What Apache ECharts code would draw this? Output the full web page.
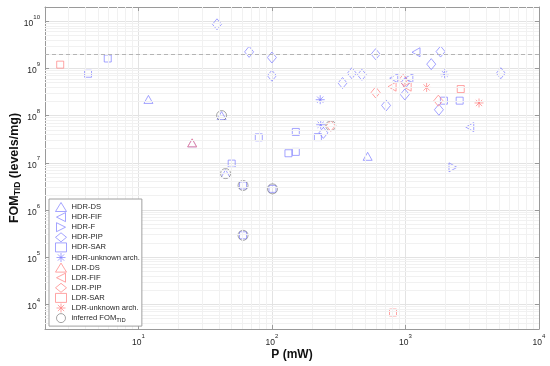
<!DOCTYPE html>
<html><head><meta charset="utf-8">
<script src="https://cdn.jsdelivr.net/npm/echarts@6/dist/echarts.min.js"></script>
<style>html,body{margin:0;padding:0;background:#fff}#c{width:550px;height:366px}</style>
</head><body><div id="c"></div>
<script>
// ---- data: [P (mW), FOM_TID (levels/mg)] ----
const hdrDS = [[11.9,2.2e8],[42,1e8],[45,5.9e6],[25.3,2.64e7],[521,1.37e7]];
const hdrFIF = [[1200,2.2e9],[817,6.2e8],[1060,6.2e8],[3030,5.7e7]];
const hdrF = [[2270,8.0e6]];
const hdrPIP = [[38.8,8.6e9],[67.5,2.24e9],[100,1.7e9],[100,7e8],[598,2.0e9],[1832,2.27e9],[1560,1.23e9],[5175,7.9e8],[397,7.9e8],[472,7.3e8],[338,4.9e8],[1000,5.0e8],[989,2.8e8],[1780,1.33e8],[716,1.64e8],[243,4.3e7]];
const hdrSAR = [[4.2,7.7e8],[5.9,1.62e9],[79.8,3.46e7],[50,9.6e6],[60.8,3.3e6],[101,2.8e6],[60.8,2.9e5],[1941,2.07e8],[2547,2.07e8],[151,4.5e7],[221,3.5e7],[133,1.59e7],[151,1.7e7]];
const hdrUnknown = [[1963,7.7e8],[230,2.17e8],[232,6.4e7]];
const ldrDS = [[25.3,2.64e7]];
const ldrFIF = [[794,4.1e8],[1030,4.1e8]];
const ldrPIP = [[962,5.7e8],[598,3.1e8],[1763,2.07e8],[276,6.1e7]];
const ldrSAR = [[2.6,1.2e9],[2594,3.65e8],[807,6700]];
const ldrUnknown = [[1440,3.95e8],[3556,1.85e8]];
const inferred = [[42,1e8],[45,5.9e6],[60.8,3.3e6],[101,2.8e6],[60.8,2.9e5],[276,6.1e7]];
const thresholdFOM = 2e9;
const xRange = [2, 10000];
const yRange = [3000, 2e10];
const minorMult = [2,3,4,5,6,7,8,9];
const legendNames = ['HDR-DS','HDR-FIF','HDR-F','HDR-PIP','HDR-SAR','HDR-unknown arch.','LDR-DS','LDR-FIF','LDR-PIP','LDR-SAR','LDR-unknown arch.','inferred FOM_TID'];

const FONT = 'Liberation Sans, Arial, sans-serif';
const BLUE = '#8080ff';
const RED = '#ff8080';
const GRAY = '#808080';
const TRI_LEFT = 'path://M0,5L10,0L10,10Z';
const TRI_RIGHT = 'path://M10,5L0,0L0,10Z';
const STAR = 'path://M5,0L5,10M0,5L10,5M1.5,1.5L8.5,8.5M8.5,1.5L1.5,8.5';

function minorVals(r){
  const out=[];
  for(let k=Math.floor(Math.log10(r[0]));k<=Math.ceil(Math.log10(r[1]));k++){
    minorMult.forEach(m=>{const v=m*Math.pow(10,k); if(v>r[0]&&v<r[1]) out.push(v);});
  }
  return out;
}
function powLabel(v){
  const e=Math.log10(v), r=Math.round(e);
  if(Math.abs(e-r)>1e-6) return '';
  return '{b|10}{s|'+r+'}';
}
const labRich = {
  b:{fontSize:8.5,color:'#262626',fontFamily:FONT,lineHeight:14,verticalAlign:'bottom'},
  s:{fontSize:6,color:'#262626',fontFamily:FONT,lineHeight:14,verticalAlign:'top'}
};

function sc(name,data,symbol,size,color){
  return {name,type:'scatter',data,symbol,symbolSize:size,z:3,
    itemStyle:{color:'none',borderColor:color,borderWidth:0.9},
    emphasis:{disabled:true}};
}
const series = [
  sc('HDR-DS',hdrDS,'triangle',[9,8],BLUE),
  sc('HDR-FIF',hdrFIF,TRI_LEFT,[8,9],BLUE),
  sc('HDR-F',hdrF,TRI_RIGHT,[8,9],BLUE),
  sc('HDR-PIP',hdrPIP,'diamond',[9,11],BLUE),
  sc('HDR-SAR',hdrSAR,'rect',[7,7],BLUE),
  sc('HDR-unknown arch.',hdrUnknown,STAR,[9,9],BLUE),
  sc('LDR-DS',ldrDS,'triangle',[9,8],RED),
  sc('LDR-FIF',ldrFIF,TRI_LEFT,[8,9],RED),
  sc('LDR-PIP',ldrPIP,'diamond',[9,11],RED),
  sc('LDR-SAR',ldrSAR,'rect',[7,7],RED),
  sc('LDR-unknown arch.',ldrUnknown,STAR,[9,9],RED),
  sc('inferred FOM_TID',inferred,'circle',[10,10],GRAY),
  {type:'scatter',data:[],z:0,silent:true,
   markLine:{silent:true,symbol:'none',animation:false,label:{show:false},
     lineStyle:{color:'#f1f1f1',width:1,type:'solid'},
     data:[...minorVals(yRange).map(v=>({yAxis:v})),...minorVals(xRange).map(v=>({xAxis:v}))]}},
  {type:'scatter',data:[],z:1,silent:true,
   markLine:{silent:true,symbol:'none',animation:false,label:{show:false},
     lineStyle:{color:'#b4b4b4',width:1,type:[4,3]},
     data:[{yAxis:thresholdFOM}]}}
];

function logAxis(isX, pos, showLabels){
  const r = isX?xRange:yRange;
  return {type:'log',logBase:10,min:r[0],max:r[1],position:pos,
    axisLine:{show:true,onZero:false,lineStyle:{color:'#9a9a9a',width:1}},
    axisTick:{show:true,inside:true,length:4,lineStyle:{color:'#9a9a9a'}},
    axisLabel:{show:showLabels,formatter:powLabel,rich:labRich,margin:isX?4:5},
    splitLine:{show:showLabels,lineStyle:{color:'#e3e3e3',width:1}},
    minorTick:{show:false},minorSplitLine:{show:false}};
}
const xA = logAxis(true,'bottom',true);
xA.name='P (mW)'; xA.nameLocation='middle'; xA.nameGap=20; xA.nameMoveOverlap=false;
xA.nameTextStyle={fontFamily:FONT,fontSize:12,fontWeight:'bold',color:'#111'};
const yA = logAxis(false,'left',true);
yA.name='FOM{sub|TID} (levels/mg)'; yA.nameLocation='middle'; yA.nameGap=23; yA.nameMoveOverlap=false;
yA.nameTextStyle={fontFamily:FONT,fontSize:12.5,fontWeight:'bold',color:'#111',
  rich:{sub:{fontFamily:FONT,fontSize:8.5,fontWeight:'bold',color:'#111',verticalAlign:'bottom',padding:[6,0,0,0]}}};

const legendData = legendNames.map(n => n==='inferred FOM_TID'
  ? {name:n,textStyle:{rich:{sub:{fontFamily:FONT,fontSize:5.8,color:'#262626',verticalAlign:'bottom',padding:[3,0,0,0]}}}}
  : {name:n});

const chart = echarts.init(document.getElementById('c'),null,{renderer:'canvas'});
chart.setOption({
  animation:false,
  backgroundColor:'#fff',
  grid:{left:45,right:11,top:7,bottom:37,containLabel:false,outerBoundsMode:'none'},
  xAxis:[xA, logAxis(true,'top',false)],
  yAxis:[yA, logAxis(false,'right',false)],
  legend:{orient:'vertical',left:49,top:199,padding:[1,2,1,4],itemWidth:11,itemHeight:9,itemGap:-3.9,z:10,
    borderColor:'#a0a0a0',borderWidth:1,backgroundColor:'#fff',selectedMode:false,
    itemStyle:{borderWidth:0.9,color:'none'},
    data:legendData,
    formatter:n=>n==='inferred FOM_TID'?'inferred FOM{sub|TID}':n,
    textStyle:{fontFamily:FONT,fontSize:7.6,color:'#262626',lineHeight:10}},
  series
});
</script></body></html>
